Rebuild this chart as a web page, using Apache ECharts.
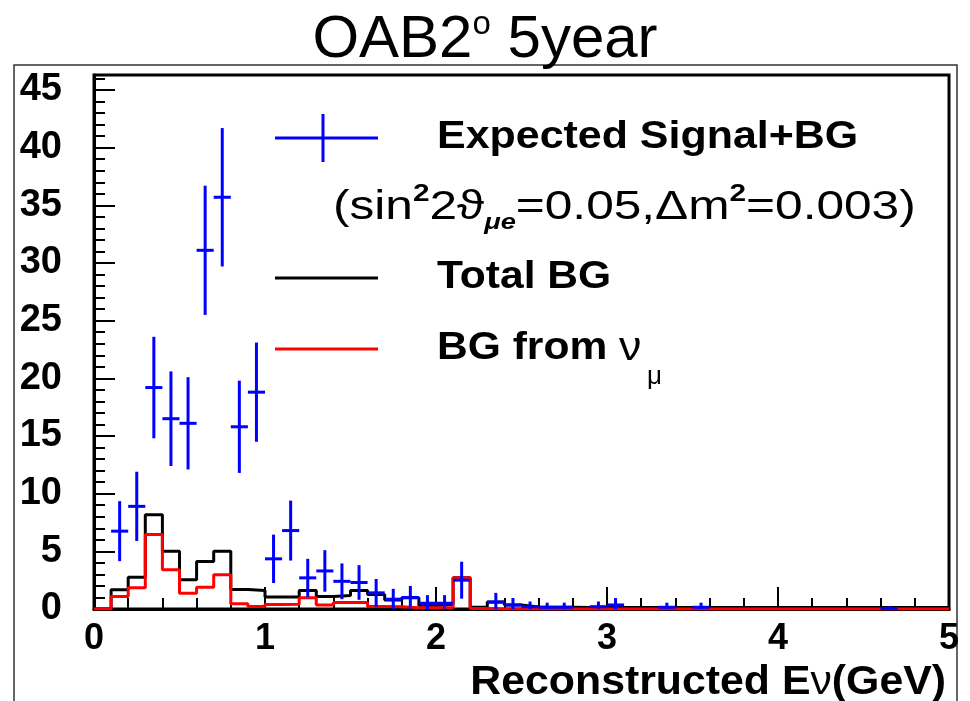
<!DOCTYPE html>
<html>
<head>
<meta charset="utf-8">
<script src="https://cdn.jsdelivr.net/npm/echarts@6/dist/echarts.min.js"></script>
<style>
html, body { margin: 0; padding: 0; background: #fff; }
#chart { width: 970px; height: 701px; }
</style>
</head>
<body>
<div id="chart"></div>
<script>
// Histogram binning: 50 bins of 0.1 GeV from 0 to 5 GeV
const binWidth = 0.1;

// Total background per bin (events / 0.1 GeV)
const totalBG = [
  0, 1.67, 2.76, 8.17, 5.01, 2.53, 4.12, 5.01, 1.69, 1.6,
  1.05, 1.05, 1.6, 1.08, 1.17, 1.6, 1.26, 0.79, 0.97, 0.3,
  0.39, 2.7, 0.16, 0.6, 0.35, 0.18, 0.16, 0.15, 0.14, 0.15,
  0.14, 0.14, 0.13, 0.13, 0.13, 0.13, 0.12, 0.12, 0.12, 0.12,
  0.12, 0.12, 0.12, 0.12, 0.12, 0.12, 0.12, 0.12, 0.12, 0.12
];

// Background from nu_mu per bin
const bgNuMu = [
  0, 1.08, 1.84, 6.46, 3.4, 1.37, 1.89, 2.97, 0.45, 0.22,
  0.4, 0.42, 0.97, 0.35, 0.56, 0.56, 0.22, 0.2, 0.1, 0.1,
  0.1, 2.7, 0.05, 0, 0, 0, 0, 0, 0, 0,
  0, 0, 0, 0, 0, 0, 0, 0, 0, 0,
  0, 0, 0, 0, 0, 0, 0, 0, 0, 0
];

// Expected signal + background: bin centres, contents and errors
const sigCenters = [
  0.15, 0.25, 0.35, 0.45, 0.55, 0.65, 0.75, 0.85, 0.95, 1.05,
  1.15, 1.25, 1.35, 1.45, 1.55, 1.65, 1.75, 1.85, 1.95, 2.05,
  2.15, 2.35, 2.45, 2.55, 2.65, 2.75, 2.95, 3.05, 3.35, 3.55, 4.65
];
const sigValues = [
  6.75, 8.9, 19.2, 16.5, 16.1, 31.1, 35.7, 15.8, 18.8, 4.35,
  6.8, 2.7, 3.3, 2.4, 2.3, 1.4, 0.85, 1.0, 0.5, 0.5,
  2.5, 0.6, 0.35, 0.2, 0.15, 0.15, 0.2, 0.35, 0.15, 0.15, 0.05
];
const sigErrors = [
  2.6, 3.0, 4.4, 4.1, 4.0, 5.6, 6.0, 4.0, 4.3, 2.1,
  2.6, 1.65, 1.8, 1.55, 1.5, 1.2, 0.9, 1.0, 0.7, 0.7,
  1.6, 0.8, 0.6, 0.45, 0.4, 0.4, 0.45, 0.6, 0.4, 0.4, 0.2
];

// Axis ticks
const xTickLabels = [0, 1, 2, 3, 4, 5];
const yTickLabels = [0, 5, 10, 15, 20, 25, 30, 35, 40, 45];
const yMinorTicks = Array.from({ length: 47 }, (_, i) => i);

const FONT = '"Liberation Sans", Arial, Helvetica, sans-serif';

// Step outline of a histogram: one point per bin low edge plus the upper edge
function stepData(values) {
  const pts = values.map((v, i) => [+(i * binWidth).toFixed(2), v]);
  pts.push([+(values.length * binWidth).toFixed(2), values[values.length - 1]]);
  return pts;
}

const chart = echarts.init(document.getElementById('chart'), null, { renderer: 'canvas' });

const yCommon = { type: 'value', min: 0, max: 46.3, position: 'left' };

chart.setOption({
  backgroundColor: '#fff',
  animation: false,
  title: {
    text: 'OAB2{s|o} 5year',
    left: 'center',
    top: 3,
    textStyle: {
      fontFamily: FONT, fontSize: 60, fontWeight: 'normal', color: '#000', lineHeight: 64,
      rich: {
        s: { fontFamily: FONT, fontSize: 33, color: '#000', verticalAlign: 'top', lineHeight: 42 }
      }
    }
  },
  grid: {
    left: 94, right: 21, top: 75, bottom: 92,
    show: true, borderColor: '#000', borderWidth: 3, backgroundColor: 'transparent'
  },
  xAxis: {
    type: 'value', min: 0, max: 5, interval: 1,
    axisLine: { show: true, onZero: false, lineStyle: { color: '#000', width: 3 } },
    axisTick: { show: true, inside: true, length: 22, lineStyle: { color: '#000', width: 2 } },
    minorTick: { show: true, splitNumber: 5, length: 11, lineStyle: { color: '#000', width: 2 } },
    splitLine: { show: false },
    minorSplitLine: { show: false },
    axisLabel: {
      margin: 12, fontFamily: FONT, fontSize: 36, fontWeight: 'bold', color: '#000',
      formatter: v => (xTickLabels.includes(v) ? String(v) : '')
    }
  },
  yAxis: [
    Object.assign({}, yCommon, {
      axisLine: { show: true, lineStyle: { color: '#000', width: 3 } },
      axisTick: { show: true, inside: true, length: 21, customValues: yTickLabels, lineStyle: { color: '#000', width: 2 } },
      axisLabel: {
        customValues: yTickLabels, margin: 32,
        fontFamily: FONT, fontSize: 38, fontWeight: 'bold', color: '#000'
      },
      splitLine: { show: false }
    }),
    Object.assign({}, yCommon, {
      axisLine: { show: false },
      axisTick: { show: true, inside: true, length: 11, customValues: yMinorTicks, lineStyle: { color: '#000', width: 2 } },
      axisLabel: { show: false },
      splitLine: { show: false }
    })
  ],
  series: [
    {
      name: 'Total BG', type: 'line', step: 'end', yAxisIndex: 0,
      data: stepData(totalBG), symbol: 'none', z: 3,
      lineStyle: { color: '#000', width: 3 }
    },
    {
      name: 'BG from nu_mu', type: 'line', step: 'end', yAxisIndex: 0,
      data: stepData(bgNuMu), symbol: 'none', z: 4,
      lineStyle: { color: '#ff0000', width: 3 }
    },
    {
      name: 'Expected Signal+BG', type: 'custom', yAxisIndex: 0, z: 5,
      data: sigCenters.map((x, i) => [x, sigValues[i], sigErrors[i]]),
      encode: { x: 0, y: 1 },
      renderItem: function (params, api) {
        const x = api.value(0), y = api.value(1), e = api.value(2);
        const c = api.coord([x, y]);
        const top = api.coord([x, y + e]);
        const bot = api.coord([x, Math.max(0, y - e)]);
        const l = api.coord([x - binWidth / 2, y]);
        const r = api.coord([x + binWidth / 2, y]);
        const st = { stroke: '#0000ff', lineWidth: 3 };
        return {
          type: 'group',
          children: [
            { type: 'line', shape: { x1: c[0], y1: top[1], x2: c[0], y2: bot[1] }, style: st },
            { type: 'line', shape: { x1: l[0], y1: c[1], x2: r[0], y2: c[1] }, style: st }
          ]
        };
      }
    }
  ],
  graphic: [
    // canvas border
    { type: 'rect', shape: { x: 14, y: 65, width: 943, height: 700 }, style: { fill: 'none', stroke: '#333', lineWidth: 1.5 }, z: 0 },
    // legend: signal + BG (error-bar cross)
    { type: 'line', shape: { x1: 275, y1: 138, x2: 378, y2: 138 }, style: { stroke: '#0000ff', lineWidth: 3 } },
    { type: 'line', shape: { x1: 323, y1: 114, x2: 323, y2: 162 }, style: { stroke: '#0000ff', lineWidth: 3 } },
    { type: 'text', x: 437, y: 138, scaleX: 1.13, style: { text: 'Expected Signal+BG', fontFamily: FONT, fontSize: 38, fontWeight: 'bold', fill: '#000', verticalAlign: 'middle', align: 'left' } },
    {
      type: 'text', x: 333, y: 208, scaleX: 1.24,
      style: {
        text: '{m|(sin}{p|2}{m|2ϑ}{b|μe}{m|=0.05,Δm}{p|2}{m|=0.003)}',
        verticalAlign: 'middle', align: 'left',
        rich: {
          m: { fontFamily: FONT, fontSize: 40, fill: '#000', lineHeight: 52, verticalAlign: 'middle' },
          p: { fontFamily: FONT, fontSize: 24, fontWeight: 'bold', fill: '#000', lineHeight: 34, verticalAlign: 'top' },
          b: { fontFamily: FONT, fontSize: 22, fontWeight: 'bold', fontStyle: 'italic', fill: '#000', lineHeight: 28, verticalAlign: 'bottom' }
        }
      }
    },
    // legend: total BG
    { type: 'line', shape: { x1: 275, y1: 278, x2: 378, y2: 278 }, style: { stroke: '#000', lineWidth: 3 } },
    { type: 'text', x: 437, y: 278, scaleX: 1.12, style: { text: 'Total BG', fontFamily: FONT, fontSize: 38, fontWeight: 'bold', fill: '#000', verticalAlign: 'middle', align: 'left' } },
    // legend: BG from nu_mu
    { type: 'line', shape: { x1: 275, y1: 349, x2: 378, y2: 349 }, style: { stroke: '#ff0000', lineWidth: 3 } },
    {
      type: 'text', x: 437, y: 349, scaleX: 1.12,
      style: {
        text: '{t|BG from }{n|ν}',
        verticalAlign: 'middle', align: 'left',
        rich: {
          t: { fontFamily: FONT, fontSize: 38, fontWeight: 'bold', fill: '#000' },
          n: { fontFamily: FONT, fontSize: 40, fill: '#000' }
        }
      }
    },
    { type: 'text', x: 647, y: 377, style: { text: 'μ', fontFamily: FONT, fontSize: 26, fill: '#000', verticalAlign: 'middle', align: 'left' } },
    // x-axis title
    {
      type: 'text', x: 946, y: 683, scaleX: 1.07,
      style: {
        text: '{b|Reconstructed E}{n|ν}{b|(GeV)}',
        align: 'right', verticalAlign: 'middle',
        rich: {
          b: { fontFamily: FONT, fontSize: 40, fontWeight: 'bold', fill: '#000' },
          n: { fontFamily: FONT, fontSize: 40, fill: '#000' }
        }
      }
    }
  ]
});
</script>
</body>
</html>
